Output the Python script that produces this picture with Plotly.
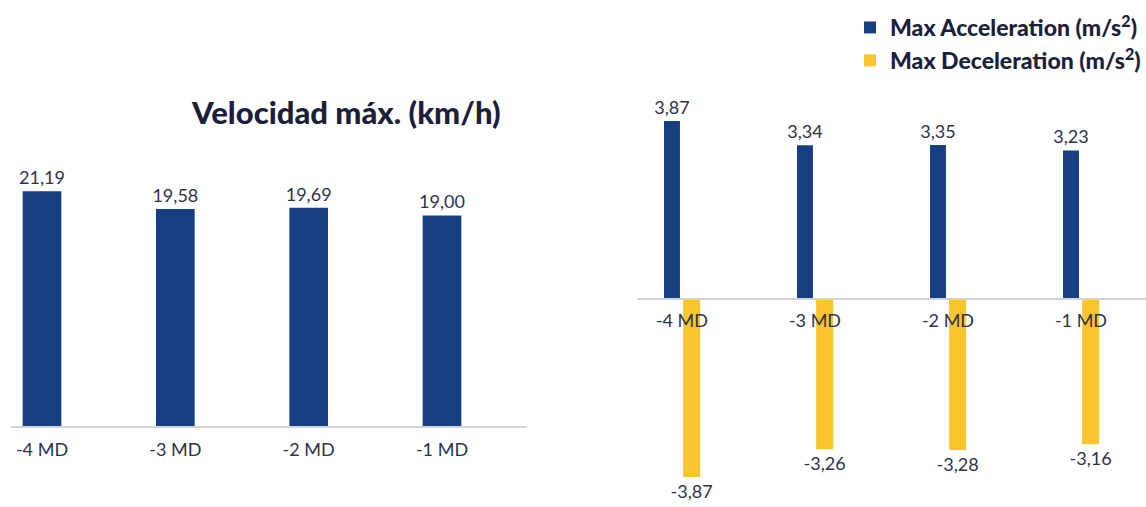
import plotly.graph_objects as go

categories = ["-4 MD", "-3 MD", "-2 MD", "-1 MD"]
velocidad = [21.19, 19.58, 19.69, 19.00]
max_acc = [3.87, 3.34, 3.35, 3.23]
max_dec = [-3.87, -3.26, -3.28, -3.16]

BLUE = "#164083"
YELLOW = "#FCC42D"
TEXT = "#2e3247"
TITLE = "#1b1f3b"
FONT = "Lato"
W, H = 1146, 507

def px_y(p):
    return 1 - p / H

fig = go.Figure()

fig.add_trace(go.Bar(
    x=categories, y=velocidad, xaxis="x", yaxis="y",
    marker=dict(color=BLUE, line=dict(width=0)),
    width=0.29,
    texttemplate="%{y:.2f}", textposition="outside", constraintext="none",
    textfont=dict(family=FONT, size=18, color=TEXT),
    cliponaxis=False, showlegend=False, hoverinfo="skip",
))

fig.add_trace(go.Bar(
    x=categories, y=max_acc, xaxis="x2", yaxis="y2",
    name="Max Acceleration (m/s<sup>2</sup>)",
    marker=dict(color=BLUE, line=dict(width=0)),
    width=0.12, offset=-0.135,
    texttemplate="%{y:.2f}", textposition="outside", constraintext="none",
    textfont=dict(family=FONT, size=18, color=TEXT),
    cliponaxis=False,
))
fig.add_trace(go.Bar(
    x=categories, y=max_dec, xaxis="x2", yaxis="y2",
    name="Max Deceleration (m/s<sup>2</sup>)",
    marker=dict(color=YELLOW, line=dict(width=0)),
    width=0.128, offset=0.009,
    texttemplate="%{y:.2f}", textposition="outside", constraintext="none",
    textfont=dict(family=FONT, size=18, color=TEXT),
    cliponaxis=False,
))

left_base = 426
left_top = 140
left_scale = 11.08
right_zero = 299
right_top = 95
right_bot = 500
right_scale = 46.0

fig.update_layout(
    width=W, height=H,
    margin=dict(l=0, r=0, t=0, b=0),
    paper_bgcolor="white", plot_bgcolor="white",
    separators=",.",
    barmode="overlay",
    font=dict(family=FONT, color=TEXT),
    xaxis=dict(
        domain=[11 / W, 527 / W], type="category",
        range=[-0.2325, 3.6375],
        showline=True, linecolor="#d3d3d3", linewidth=1.5,
        ticks="", showgrid=False, zeroline=False,
        tickfont=dict(family=FONT, size=18, color=TEXT),
        ticklabelstandoff=7,
        anchor="y",
    ),
    yaxis=dict(
        domain=[px_y(left_base), px_y(left_top)],
        range=[0, (left_base - left_top) / left_scale],
        visible=False, showgrid=False, zeroline=False,
    ),
    xaxis2=dict(
        domain=[637 / W, 1], type="category",
        range=[-0.338, 3.489],
        anchor="free", position=px_y(right_zero),
        showline=True, linecolor="#d3d3d3", linewidth=1.5,
        ticks="", showgrid=False, zeroline=False,
        tickfont=dict(family=FONT, size=18, color=TEXT),
        ticklabelstandoff=6,
    ),
    yaxis2=dict(
        domain=[px_y(right_bot), px_y(right_top)],
        range=[-(right_bot - right_zero) / right_scale, (right_zero - right_top) / right_scale],
        visible=False, showgrid=False, zeroline=False,
        anchor="x2",
    ),
    legend=dict(
        x=1, xanchor="right", y=1 - 6 / H, yanchor="top",
        font=dict(family=FONT, size=23, color=TITLE, weight=900),
        bgcolor="rgba(0,0,0,0)", itemclick=False,
        tracegroupgap=0,
    ),
    annotations=[dict(
        text="Velocidad máx. (km/h)",
        xref="paper", yref="paper",
        x=346 / W, y=px_y(112), xanchor="center", yanchor="middle",
        showarrow=False,
        font=dict(family=FONT, size=31, color=TITLE, weight=900),
    )],
)

fig.write_html("out.html")
